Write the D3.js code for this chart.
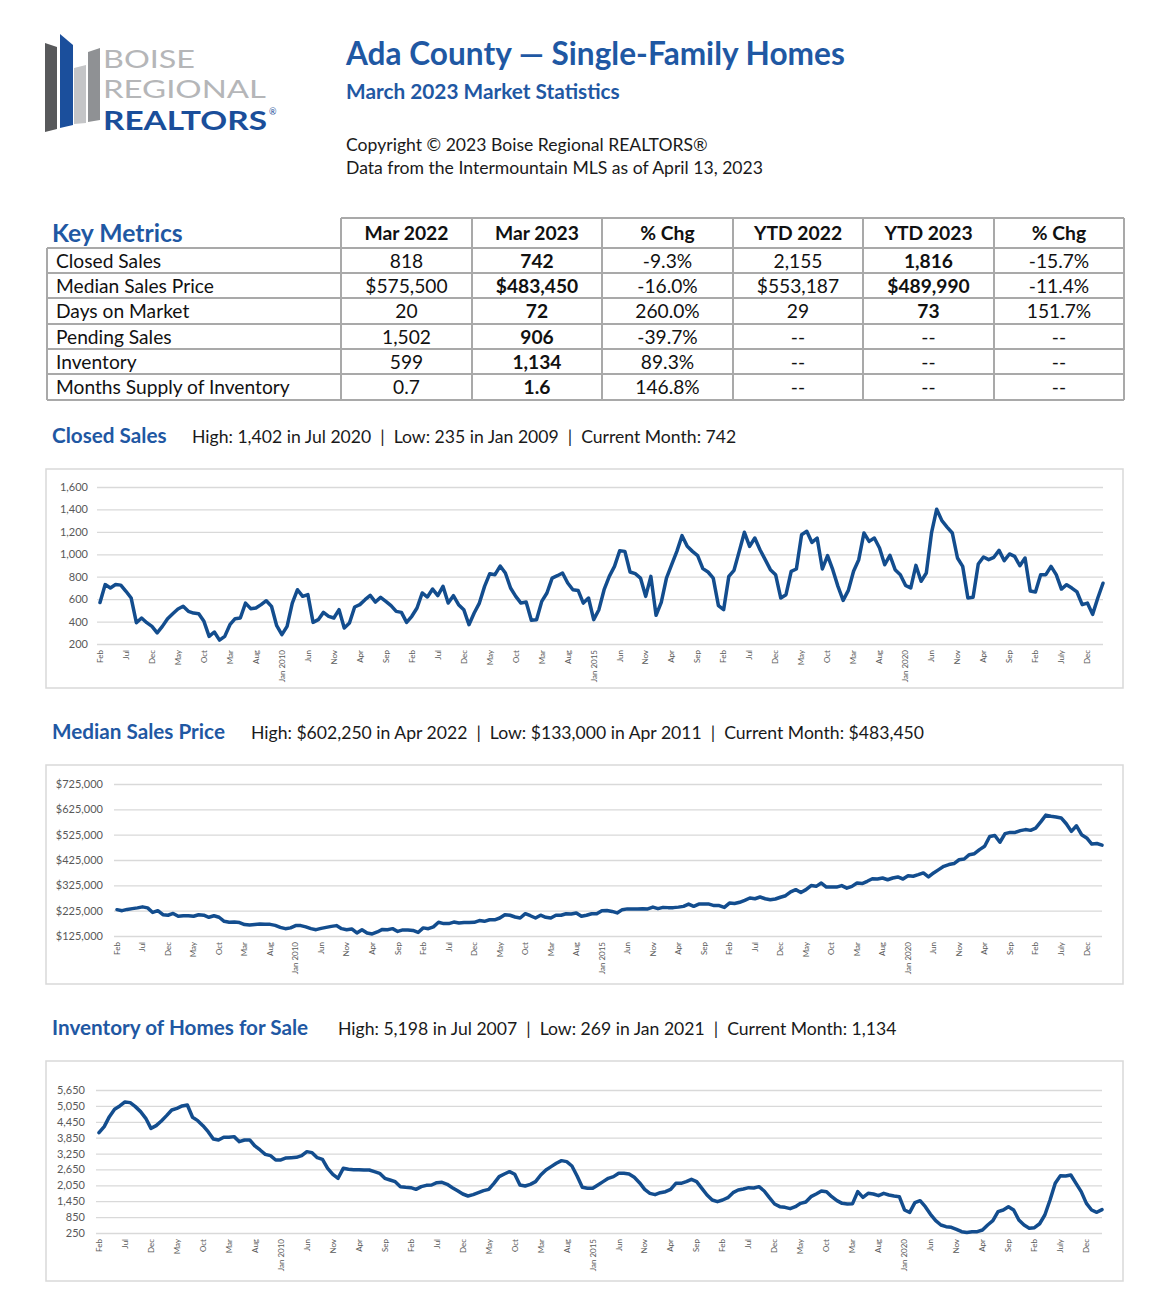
<!DOCTYPE html>
<html>
<head>
<meta charset="utf-8">
<script src="https://cdn.jsdelivr.net/npm/d3@7"></script>
<style>
  body { margin: 0; background: #fff; }
  svg text { font-family: Lato, "Open Sans", sans-serif; }
</style>
</head>
<body>
<svg id="page" width="1169" height="1296"></svg>
<script>
// monthly series, Feb 2007 .. Mar 2023 (194 months)
const startDate = new Date(2007, 1, 1);

const closedSales = [
  570, 730, 700, 730, 725, 670, 610, 390, 432, 390, 357, 300, 357, 426, 470, 512, 536, 491, 476, 470,
  402, 268, 307, 235, 268, 372, 426, 432, 565, 515, 521, 551, 586, 536, 363, 283, 357, 565, 684, 625,
  640, 393, 417, 482, 447, 432, 506, 343, 387, 530, 551, 595, 634, 574, 616, 580, 542, 491, 482, 393,
  447, 521, 655, 619, 690, 631, 714, 565, 631, 551, 506, 372, 476, 565, 714, 827, 818, 895, 833, 699,
  625, 565, 574, 411, 417, 580, 655, 788, 809, 833, 744, 684, 678, 565, 610, 417, 506, 684, 803, 892,
  1032, 1026, 842, 827, 788, 625, 803, 456, 571, 788, 907, 1026, 1166, 1071, 1026, 988, 872, 842, 788, 542,
  506, 803, 857, 1026, 1196, 1071, 1145, 1041, 952, 863, 818, 610, 640, 848, 869, 1175, 1205, 1106, 1145, 869,
  988, 863, 714, 589, 678, 848, 952, 1190, 1115, 1145, 1056, 907, 991, 863, 818, 723, 699, 901, 759, 833,
  1190, 1402, 1300, 1243, 1190, 967, 892, 610, 616, 913, 976, 952, 973, 1035, 943, 1003, 982, 898, 967, 673,
  664, 818, 818, 892, 818, 690, 729, 699, 664, 551, 565, 464, 610, 742
];

const medianPrice = [
  229000, 225000, 230000, 233000, 236000, 240000, 236000, 218000, 225000, 209000,
  207000, 214000, 203000, 205000, 205000, 203000, 209000, 207000, 199000, 205000,
  199000, 183000, 179000, 180000, 178000, 170000, 168000, 170000, 172000, 171000,
  171000, 167000, 159000, 154000, 157000, 166000, 166000, 161000, 154000, 150000,
  155000, 159000, 163000, 166000, 154000, 150000, 153000, 137000, 150000, 137000,
  133000, 141000, 151000, 150000, 154000, 143000, 149000, 149000, 147000, 139000,
  157000, 154000, 161000, 179000, 174000, 174000, 180000, 176000, 178000, 178000,
  179000, 186000, 183000, 189000, 189000, 196000, 209000, 207000, 200000, 196000,
  213000, 205000, 196000, 207000, 199000, 196000, 207000, 207000, 213000, 212000,
  216000, 203000, 207000, 213000, 213000, 225000, 226000, 222000, 216000, 229000,
  232000, 232000, 232000, 233000, 232000, 239000, 233000, 238000, 237000, 237000,
  239000, 242000, 251000, 242000, 251000, 251000, 251000, 245000, 245000, 238000,
  255000, 253000, 258000, 266000, 275000, 272000, 279000, 272000, 268000, 271000,
  278000, 284000, 299000, 308000, 297000, 308000, 324000, 321000, 334000, 318000,
  318000, 318000, 324000, 314000, 321000, 334000, 332000, 341000, 351000, 350000,
  354000, 347000, 354000, 358000, 350000, 363000, 361000, 367000, 374000, 358000,
  374000, 387000, 400000, 407000, 411000, 426000, 429000, 446000, 450000, 466000,
  479000, 518000, 522000, 495000, 529000, 534000, 534000, 541000, 545000, 542000,
  551000, 575500, 602250, 598000, 595000, 591000, 568000, 538000, 560000, 525000,
  512000, 488000, 490000, 483450
];

const inventory = [
  4040, 4266, 4644, 4921, 5047, 5198, 5173, 5022, 4833, 4581, 4203, 4304, 4480, 4682, 4896, 4959, 5047, 5085, 4619, 4493,
  4304, 4077, 3800, 3763, 3864, 3864, 3889, 3700, 3763, 3763, 3536, 3385, 3221, 3171, 3007, 3007, 3083, 3095, 3108, 3171,
  3322, 3284, 3095, 3032, 2692, 2466, 2315, 2692, 2655, 2642, 2642, 2630, 2630, 2567, 2504, 2315, 2252, 2189, 2000, 1975,
  1962, 1899, 2000, 2050, 2063, 2151, 2164, 2088, 1962, 1849, 1723, 1647, 1698, 1773, 1849, 1899, 2126, 2378, 2478, 2567,
  2466, 2063, 2025, 2088, 2189, 2441, 2630, 2756, 2882, 2982, 2945, 2781, 2403, 1975, 1937, 1937, 2063, 2189, 2315, 2378,
  2504, 2504, 2478, 2353, 2151, 1899, 1748, 1698, 1773, 1811, 1899, 2126, 2126, 2189, 2277, 2189, 1937, 1685, 1496, 1433,
  1496, 1584, 1773, 1874, 1912, 1962, 1950, 2000, 1836, 1584, 1345, 1244, 1219, 1169, 1244, 1370, 1421, 1622, 1723, 1836,
  1811, 1622, 1471, 1370, 1345, 1358, 1811, 1597, 1748, 1723, 1660, 1748, 1685, 1647, 1622, 1119, 1031, 1396, 1471, 1244,
  955, 716, 552, 489, 464, 388, 300, 269, 300, 300, 363, 552, 716, 1056, 1119, 1244, 1119, 741, 552, 426,
  451, 599, 930, 1496, 2126, 2416, 2403, 2441, 2126, 1811, 1370, 1119, 1031, 1134
];

// category labels shown every 5 months
const xTickLabels = [
  "Feb", "Jul", "Dec", "May", "Oct", "Mar", "Aug", "Jan 2010", "Jun", "Nov",
  "Apr", "Sep", "Feb", "Jul", "Dec", "May", "Oct", "Mar", "Aug", "Jan 2015",
  "Jun", "Nov", "Apr", "Sep", "Feb", "Jul", "Dec", "May", "Oct", "Mar",
  "Aug", "Jan 2020", "Jun", "Nov", "Apr", "Sep", "Feb", "July", "Dec"
];
const xTickEvery = 5;

// key metrics table
const metricNames = ["Closed Sales", "Median Sales Price", "Days on Market", "Pending Sales", "Inventory", "Months Supply of Inventory"];
const columnHeaders = ["Mar 2022", "Mar 2023", "% Chg", "YTD 2022", "YTD 2023", "% Chg"];
const mar2022 = ["818", "$575,500", "20", "1,502", "599", "0.7"];
const mar2023 = ["742", "$483,450", "72", "906", "1,134", "1.6"];
const pctChgMonth = ["-9.3%", "-16.0%", "260.0%", "-39.7%", "89.3%", "146.8%"];
const ytd2022 = ["2,155", "$553,187", "29", "--", "--", "--"];
const ytd2023 = ["1,816", "$489,990", "73", "--", "--", "--"];
const pctChgYtd = ["-15.7%", "-11.4%", "151.7%", "--", "--", "--"];

const BLUE = "#1f58a3";
const LINE = "#134d8e";
const svg = d3.select("#page");

// ---------- logo ----------
const logo = svg.append("g");
const bars = [
  { fill: "#58595b", pts: [[45, 43], [57, 47], [57, 129], [45, 132]] },
  { fill: "#1b4f9c", pts: [[60, 34], [73, 45], [73, 125], [60, 128]] },
  { fill: "#c4c5c7", pts: [[74, 68], [86, 65], [86, 123], [74, 124]] },
  { fill: "#8f9194", pts: [[88, 52], [100, 48], [100, 120], [88, 122]] }
];
logo.selectAll("polygon").data(bars).enter().append("polygon")
  .attr("points", d => d.pts.join(" "))
  .attr("fill", d => d.fill);
logo.append("text").attr("x", 103).attr("y", 68).attr("font-size", 25)
  .attr("fill", "#b5b6b8").attr("textLength", 92).attr("lengthAdjust", "spacingAndGlyphs").text("BOISE");
logo.append("text").attr("x", 103).attr("y", 98).attr("font-size", 25)
  .attr("fill", "#b5b6b8").attr("textLength", 163).attr("lengthAdjust", "spacingAndGlyphs").text("REGIONAL");
logo.append("text").attr("x", 103).attr("y", 130).attr("font-size", 26).attr("font-weight", 700)
  .attr("fill", "#1a4e9a").attr("textLength", 164).attr("lengthAdjust", "spacingAndGlyphs").text("REALTORS");
logo.append("text").attr("x", 269).attr("y", 115).attr("font-size", 9)
  .attr("fill", "#1a4e9a").text("®");

// ---------- header ----------
svg.append("text").attr("x", 346).attr("y", 65).attr("font-size", 31.6).attr("font-weight", 700)
  .attr("fill", BLUE).text("Ada County — Single-Family Homes");
svg.append("text").attr("x", 346).attr("y", 99).attr("font-size", 20.8).attr("font-weight", 700)
  .attr("fill", BLUE).text("March 2023 Market Statistics");
svg.append("text").attr("x", 346).attr("y", 151).attr("font-size", 17.6)
  .attr("fill", "#1a1a1a").text("Copyright © 2023 Boise Regional REALTORS®");
svg.append("text").attr("x", 346).attr("y", 174).attr("font-size", 17.6)
  .attr("fill", "#1a1a1a").text("Data from the Intermountain MLS as of April 13, 2023");

// ---------- key metrics table ----------
const colEdges = [47, 341, 472, 602, 733, 863, 994, 1124];
const rowEdges = [218, 248, 273, 298, 324, 349, 374, 400];
const tbl = svg.append("g");
const GRID = "#a9a9a9";

svg.append("text").attr("x", 52).attr("y", 242).attr("font-size", 24.7).attr("font-weight", 700)
  .attr("fill", BLUE).text("Key Metrics");

// horizontal lines
rowEdges.forEach((y, i) => {
  tbl.append("line").attr("x1", i === 0 ? colEdges[1] : colEdges[0]).attr("x2", colEdges[7])
    .attr("y1", y).attr("y2", y).attr("stroke", GRID).attr("stroke-width", 2);
});
// vertical lines
colEdges.forEach((x, i) => {
  tbl.append("line").attr("x1", x).attr("x2", x)
    .attr("y1", i === 0 ? rowEdges[1] : rowEdges[0]).attr("y2", rowEdges[7])
    .attr("stroke", GRID).attr("stroke-width", 2);
});

columnHeaders.forEach((h, i) => {
  tbl.append("text").attr("x", (colEdges[i + 1] + colEdges[i + 2]) / 2).attr("y", 240)
    .attr("text-anchor", "middle").attr("font-size", 19.3).attr("font-weight", 700)
    .attr("fill", "#111").text(h);
});

const tableCols = [mar2022, mar2023, pctChgMonth, ytd2022, ytd2023, pctChgYtd];
const boldCols = [false, true, false, false, true, false];
metricNames.forEach((m, r) => {
  const yBase = (rowEdges[r + 1] + rowEdges[r + 2]) / 2 + 7;
  tbl.append("text").attr("x", 56).attr("y", yBase).attr("font-size", 19.2)
    .attr("fill", "#111").text(m);
  tableCols.forEach((col, c) => {
    tbl.append("text").attr("x", (colEdges[c + 1] + colEdges[c + 2]) / 2).attr("y", yBase)
      .attr("text-anchor", "middle").attr("font-size", 19.2)
      .attr("font-weight", boldCols[c] && col[r] !== "--" ? 700 : 400)
      .attr("fill", "#111").text(col[r]);
  });
});

// ---------- line charts ----------
function drawChart(opt) {
  const g = svg.append("g");

  g.append("text").attr("x", 52).attr("y", opt.headY).attr("font-size", 20.7).attr("font-weight", 700)
    .attr("fill", BLUE).text(opt.title);
  g.append("text").attr("x", opt.noteX).attr("y", opt.headY).attr("font-size", 17.6)
    .attr("fill", "#1a1a1a").style("white-space", "pre").text(opt.note);

  g.append("rect").attr("x", 46).attr("y", opt.boxTop).attr("width", 1077).attr("height", opt.boxH)
    .attr("fill", "none").attr("stroke", "#d9d9d9").attr("stroke-width", 1.5);

  const x = d3.scaleLinear().domain([0, opt.values.length - 1]).range([opt.x0, opt.x1]);
  const y = d3.scaleLinear().domain(opt.domain).range([opt.yBottom, opt.yTop]);
  const ticks = d3.range(opt.domain[0], opt.domain[1] + 1, opt.step);

  // gridlines + y labels
  const yAxis = d3.axisLeft(y).tickValues(ticks).tickSize(-(opt.x1 - opt.x0 + 3))
    .tickPadding(opt.x0 - 3 - opt.labelRight).tickFormat(opt.fmt);
  const ya = g.append("g").attr("transform", `translate(${opt.x0 - 3},0)`).call(yAxis);
  ya.select(".domain").remove();
  ya.selectAll(".tick line").attr("stroke", "#d9d9d9").attr("stroke-width", 1.3);
  ya.selectAll(".tick text").attr("fill", "#595959").attr("font-size", 11)
    .attr("font-family", "Lato, sans-serif");

  // x labels (rotated)
  g.selectAll("text.xl").data(xTickLabels).enter().append("text").attr("class", "xl")
    .attr("transform", (d, i) => `translate(${x(i * xTickEvery)},${opt.yBottom + 6}) rotate(-90)`)
    .attr("text-anchor", "end").attr("dy", "0.35em").attr("font-size", 8)
    .attr("fill", "#595959").text(d => d);

  const line = d3.line().x((d, i) => x(i)).y(d => y(d));
  g.append("path").datum(opt.values).attr("d", line)
    .attr("fill", "none").attr("stroke", LINE).attr("stroke-width", 3.5)
    .attr("stroke-linejoin", "round").attr("stroke-linecap", "round");
}

drawChart({
  title: "Closed Sales", headY: 443, noteX: 192,
  note: "High: 1,402 in Jul 2020  |  Low: 235 in Jan 2009  |  Current Month: 742",
  boxTop: 469, boxH: 219, values: closedSales,
  x0: 100, x1: 1103, yTop: 487, yBottom: 644, labelRight: 88,
  domain: [200, 1600], step: 200, fmt: d3.format(",")
});

drawChart({
  title: "Median Sales Price", headY: 739, noteX: 251,
  note: "High: $602,250 in Apr 2022  |  Low: $133,000 in Apr 2011  |  Current Month: $483,450",
  boxTop: 765, boxH: 219, values: medianPrice,
  x0: 117, x1: 1102, yTop: 784, yBottom: 936, labelRight: 103,
  domain: [125000, 725000], step: 100000, fmt: d => "$" + d3.format(",")(d)
});

drawChart({
  title: "Inventory of Homes for Sale", headY: 1035, noteX: 338,
  note: "High: 5,198 in Jul 2007  |  Low: 269 in Jan 2021  |  Current Month: 1,134",
  boxTop: 1061, boxH: 220, values: inventory,
  x0: 99, x1: 1102, yTop: 1090, yBottom: 1233, labelRight: 85,
  domain: [250, 5650], step: 600, fmt: d3.format(",")
});
</script>
</body>
</html>
